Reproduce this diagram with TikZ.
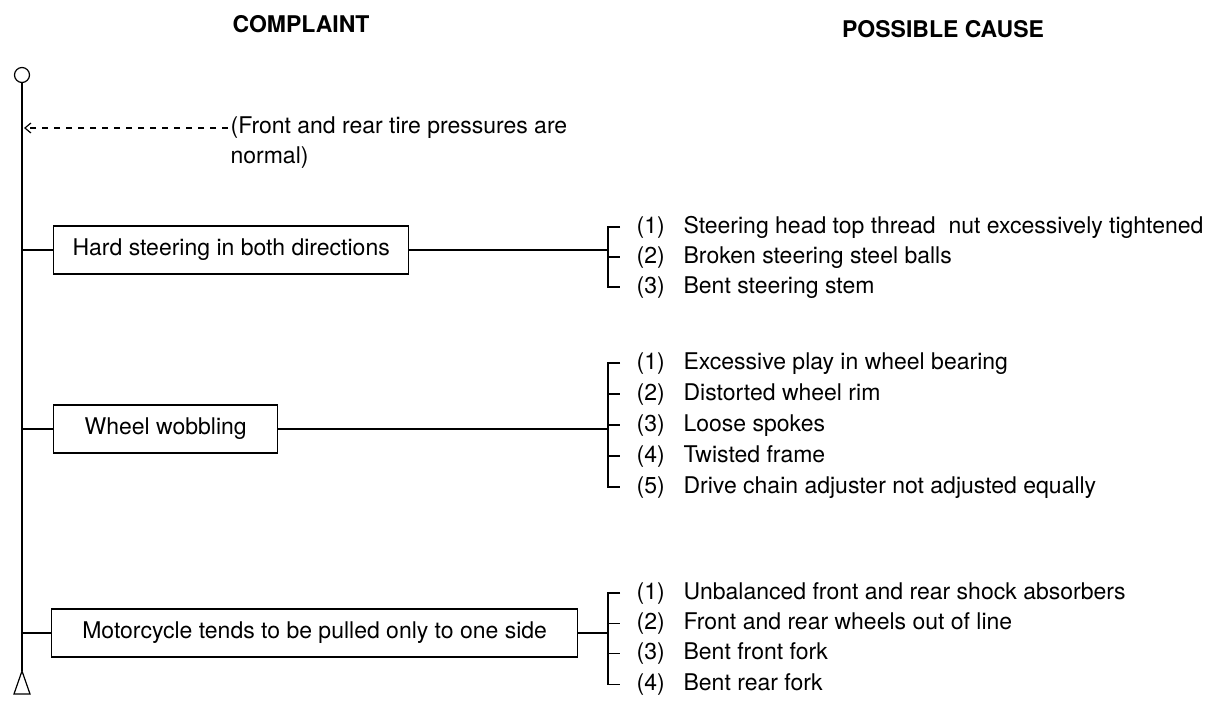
\documentclass[tikz,border=0pt]{standalone}
\usepackage{fontspec}
\setmainfont{TeX Gyre Heros}
\usetikzlibrary{arrows.meta, positioning}

\tikzset{
  head/.style={font=\fontsize{23}{26}\selectfont\bfseries},
  cbox/.style={draw, line width=1.3pt, minimum height=48, anchor=west, inner sep=0pt},
  item/.style={anchor=west, inner sep=4pt, text height=16, text depth=4},
}
\newcommand{\nr}[1]{\makebox[47pt][l]{(#1)}}

\begin{document}
\begin{tikzpicture}[x=1pt, y=-1pt, font=\fontsize{23}{30}\selectfont, line width=1.2pt]
  \useasboundingbox (0,0) rectangle (1207,704);
  % Intestazioni
  \node[head] (complaint) at (301,24) {COMPLAINT};
  \node[head] (cause) at (943,29) {POSSIBLE CAUSE};

  % Linea principale
  \node[circle, draw, minimum size=15, inner sep=0pt] (start) at (22,75) {};
  \coordinate (stop) at (22,671);
  \draw (start) -- (stop);
  \draw (stop) -- ++(-8,23) -- ++(16,0) -- cycle;

  % Nota (pressione gomme)
  \node[anchor=north west, align=left, inner sep=2pt] (note) at (228,114)
    {(Front and rear tire pressures are\\normal)};
  \coordinate (trunk0) at (24,128);
  \draw[dash pattern=on 6pt off 6pt, -{Straight Barb[length=6pt,width=10pt]}]
    (note.north west |- trunk0) -- (trunk0);

  % Disturbi
  \node[cbox, minimum width=355] (hard) at (53,250) {Hard steering in both directions};
  \node[cbox, minimum width=224] (wobble) at (53,429) {Wheel wobbling};
  \node[cbox, minimum width=526] (pull) at (51,633) {Motorcycle tends to be pulled only to one side};
  \foreach \n in {hard, wobble, pull}
    \draw (\n.west) -- (\n.west -| start);

  % Cause possibili
  \foreach \t [count=\i] in {Steering head top thread\ \ nut excessively tightened,
      Broken steering steel balls, Bent steering stem}
    \node[item] (h\i) at (632,{227+30*(\i-1)}) {\nr{\i}\t};
  \foreach \t [count=\i] in {Excessive play in wheel bearing, Distorted wheel rim,
      Loose spokes, Twisted frame, Drive chain adjuster not adjusted equally}
    \node[item] (w\i) at (632,{363+31*(\i-1)}) {\nr{\i}\t};
  \foreach \t [count=\i] in {Unbalanced front and rear shock absorbers,
      Front and rear wheels out of line, Bent front fork, Bent rear fork}
    \node[item] (m\i) at (632,{593+30.4*(\i-1)}) {\nr{\i}\t};

  % Parentesi
  \coordinate (hb) at (608,250);
  \coordinate (wb) at (608,429);
  \coordinate (mb) at (608,633);
  \draw (hard) -- (hb);
  \draw (wobble) -- (wb);
  \draw (pull) -- (mb);
  \draw ([xshift=-12]h1.west) -| (hb) |- ([xshift=-12]h3.west);
  \draw ([xshift=-12]w1.west) -| (wb) |- ([xshift=-12]w5.west);
  \draw ([xshift=-12]m1.west) -| (mb) |- ([xshift=-12]m4.west);
  \draw (hb |- h2) -- ([xshift=-12]h2.west);
  \foreach \i in {2,3,4}
    \draw (wb |- w\i) -- ([xshift=-12]w\i.west);
  \foreach \i in {2,3}
    \draw (mb |- m\i) -- ([xshift=-12]m\i.west);
\end{tikzpicture}
\end{document}
